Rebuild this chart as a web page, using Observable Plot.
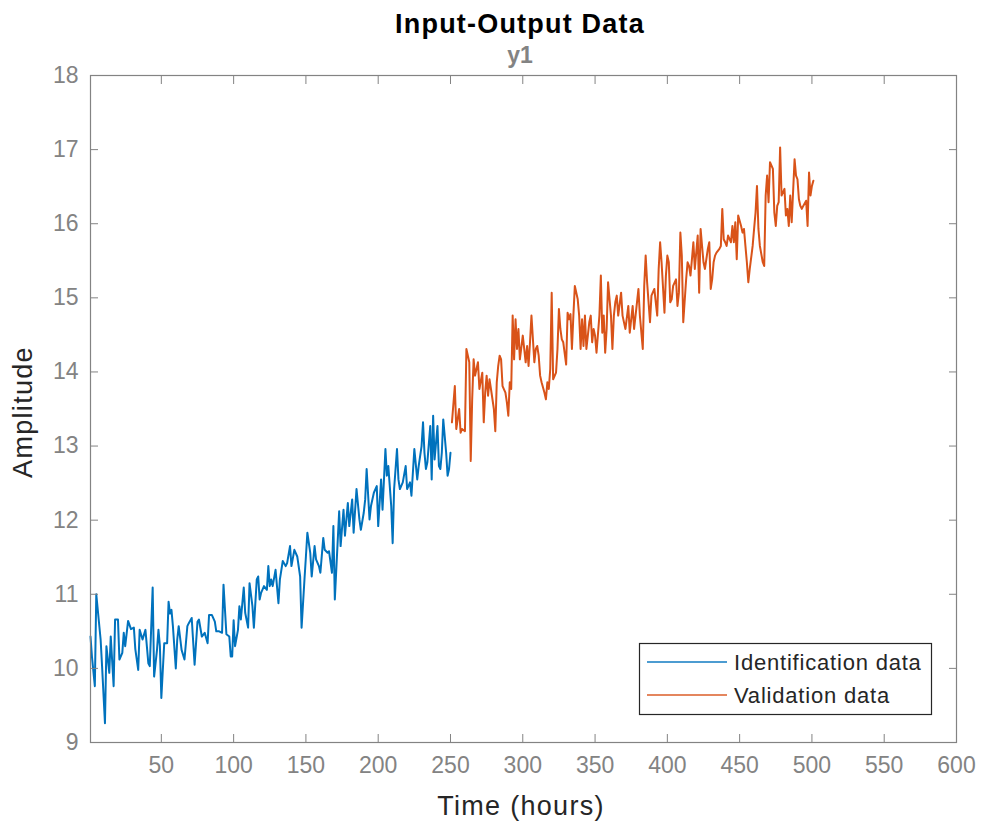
<!DOCTYPE html>
<html><head><meta charset="utf-8">
<script src="https://cdn.jsdelivr.net/npm/d3@7"></script>
<script src="https://cdn.jsdelivr.net/npm/@observablehq/plot@0.6"></script>
<style>body{margin:0;background:#fff;}</style>
</head><body><div id="chart"></div>
<script>
const identTime = [1,2,4,5,8,9,11,12,14,15,17,18,20,21,23,24,25,27,29,31,32,34,35,37,39,41,42,44,45,47,48,49,50,52,54,55,56,57,58,60,61,62,64,66,68,69,71,73,75,76,78,80,82,83,85,87,88,90,92,93,95,97,98,99,100,101,103,104,105,107,108,110,111,113,114,116,117,118,119,121,123,124,125,126,127,129,131,132,134,136,137,139,140,142,144,146,147,149,150,151,153,154,156,157,159,160,162,163,165,166,168,169,170,171,173,174,176,177,179,180,182,183,185,187,188,190,191,192,194,195,197,199,200,202,203,205,206,207,209,210,211,213,214,215,217,219,220,222,223,225,227,228,230,231,232,233,234,236,237,238,239,241,242,243,244,245,247,248,249,250];
const identValue = [10.43,10.16,9.76,11.0,10.39,10.03,9.26,10.3,9.94,10.43,9.76,10.66,10.66,10.12,10.21,10.48,10.3,10.64,10.53,10.55,10.26,9.98,10.52,10.39,10.52,10.07,10.03,11.09,9.89,10.25,10.52,10.3,9.6,10.34,10.34,10.9,10.74,10.79,10.57,10.0,10.39,10.57,10.25,10.12,10.57,10.61,10.68,10.05,10.63,10.66,10.43,10.48,10.34,10.72,10.72,10.63,10.5,10.5,10.48,11.13,10.46,10.43,10.16,10.16,10.65,10.3,10.52,10.84,10.66,11.09,10.75,10.55,11.15,10.84,10.55,11.2,11.24,10.93,11.02,11.11,11.06,11.38,11.11,11.2,11.11,11.33,10.88,11.2,11.45,11.38,11.42,11.65,11.38,11.6,11.51,11.24,10.55,11.2,11.51,11.83,11.56,11.24,11.65,11.47,11.38,11.29,11.76,11.6,11.56,11.58,11.29,11.92,10.93,11.33,12.12,11.65,12.14,11.79,12.23,11.92,12.28,11.83,12.42,12.01,11.87,12.1,12.28,12.69,12.01,12.19,12.37,12.46,11.92,12.55,12.14,12.96,12.6,12.73,12.19,11.69,12.42,12.96,12.55,12.42,12.51,12.73,12.42,12.51,12.33,12.96,12.55,12.73,13.0,13.32,12.91,12.69,12.78,13.27,12.55,13.41,12.82,13.27,12.73,12.69,12.91,13.36,12.91,12.6,12.69,12.91];
const validTime = [251,253,254,256,257,258,260,261,263,264,265,266,267,269,270,272,273,274,275,276,277,278,280,281,282,283,284,285,286,288,289,290,291,292,293,294,295,296,297,298,300,301,302,303,304,305,306,308,309,310,311,312,313,315,316,317,318,319,320,321,323,324,325,326,327,328,330,331,332,333,334,335,336,338,339,340,341,342,343,344,346,347,348,349,350,351,353,354,355,356,357,358,359,361,362,363,364,365,366,368,369,371,373,374,376,377,379,380,381,383,384,385,386,388,389,391,392,393,394,395,396,398,399,400,401,402,403,404,406,407,408,409,410,411,413,414,415,416,417,418,419,421,422,423,424,425,426,428,429,430,431,432,433,434,436,437,438,439,440,441,442,444,445,446,447,448,449,451,452,453,454,455,456,457,459,460,461,462,463,464,466,467,468,469,470,471,473,474,475,476,477,478,479,481,482,483,484,485,486,488,489,490,491,492,493,494,496,497,498,499,500,501];
const validValue = [13.32,13.81,13.23,13.5,13.18,13.23,13.2,14.31,14.13,12.8,13.63,14.17,13.95,14.13,13.77,13.99,13.32,13.72,13.95,13.68,13.9,13.77,13.5,13.2,13.86,14.08,14.22,14.17,13.81,13.72,13.59,13.41,13.86,13.77,14.76,14.17,14.71,14.31,14.58,14.17,14.49,14.31,14.13,14.35,14.08,14.4,14.76,14.13,14.31,14.35,14.22,13.95,13.86,13.72,13.63,13.86,13.77,14.04,15.07,13.9,13.99,14.31,14.85,14.58,14.44,14.4,14.1,14.8,14.71,14.78,14.31,14.76,15.16,14.98,14.76,14.31,14.71,14.35,14.76,14.31,14.67,14.76,14.4,14.58,14.49,14.26,14.76,15.3,14.53,14.76,14.26,14.58,15.21,14.76,14.31,14.76,14.94,15.03,14.76,15.07,14.76,14.58,14.89,14.53,14.89,14.58,14.94,15.12,14.76,14.31,15.16,15.57,15.21,14.67,15.03,15.12,14.94,14.76,15.39,15.75,15.48,14.8,15.3,15.57,15.48,14.94,14.98,15.16,15.25,14.89,15.07,15.88,15.57,14.67,15.25,15.48,15.43,15.3,15.52,15.75,15.39,15.84,15.07,15.93,15.7,15.48,15.39,15.66,15.75,15.12,15.25,15.48,15.57,15.61,15.66,15.7,16.2,15.79,15.75,15.7,15.84,15.75,15.97,15.75,16.02,15.52,16.11,15.97,15.88,15.93,15.7,15.48,15.21,15.39,15.7,15.93,16.15,16.51,15.93,15.7,15.48,15.43,16.38,16.65,16.29,16.83,16.74,16.15,15.97,16.24,16.29,17.03,16.38,16.47,16.11,16.2,15.97,16.38,16.02,16.87,16.65,16.6,16.33,16.24,16.2,16.24,16.31,15.97,16.69,16.38,16.51,16.58];
const xTicks = [50,100,150,200,250,300,350,400,450,500,550,600];
const yTicks = [9,10,11,12,13,14,15,16,17,18];
const seriesNames = ["Identification data", "Validation data"];
const seriesColors = ["#0072BD", "#D95319"];
const titleText = "Input-Output Data";
const subtitleText = "y1";
const xLabel = "Time (hours)";
const yLabel = "Amplitude";

const identData = identTime.map((t, i) => ({t, v: identValue[i]}));
const validData = validTime.map((t, i) => ({t, v: validValue[i]}));

const gray = "#838383";
const dark = "#262626";
const font = "'Liberation Sans', Arial, Helvetica, sans-serif";
const W = 982, H = 825, mL = 90, mR = 26, mT = 75, mB = 83;

const plot = Plot.plot({
  width: W, height: H,
  marginLeft: mL, marginRight: mR, marginTop: mT, marginBottom: mB,
  style: {fontFamily: font, background: "#fff", overflow: "visible"},
  x: {domain: [1, 600], label: null},
  y: {domain: [9, 18], label: null},
  marks: [
    Plot.line(identData, {x: "t", y: "v", stroke: seriesColors[0], strokeWidth: 2}),
    Plot.line(validData, {x: "t", y: "v", stroke: seriesColors[1], strokeWidth: 2}),
    Plot.frame({stroke: gray, strokeWidth: 1.2}),
    Plot.axisX(xTicks, {anchor: "bottom", tickSize: -8, fill: "none", stroke: gray, label: null}),
    Plot.axisX(xTicks, {anchor: "top", tickSize: -8, fill: "none", stroke: gray, label: null}),
    Plot.axisY(yTicks, {anchor: "left", tickSize: -8, fill: "none", stroke: gray, label: null}),
    Plot.axisY(yTicks, {anchor: "right", tickSize: -8, fill: "none", stroke: gray, label: null}),
    Plot.axisX(xTicks, {anchor: "bottom", tickSize: 0, tickPadding: 14, fill: gray, stroke: "none", fontSize: 23, tickFormat: d => String(d), label: null}),
    Plot.axisY(yTicks, {anchor: "left", tickSize: 0, tickPadding: 12, fill: gray, stroke: "none", fontSize: 23, tickFormat: d => String(d), label: null})
  ]
});

document.getElementById("chart").appendChild(plot);
const svg = d3.select(plot);
svg.selectAll("[aria-label='x-axis tick-label'] text, [aria-label='y-axis tick-label'] text").style("letter-spacing", "1.5px");

const cx = mL + (W - mL - mR) / 2;
svg.append("text").attr("x", cx - 3).attr("y", 33).attr("text-anchor", "middle")
  .attr("font-family", font).attr("font-size", 27).attr("font-weight", "bold").attr("fill", "#000")
  .style("letter-spacing", "1.2px").text(titleText);
svg.append("text").attr("x", cx - 3).attr("y", 63).attr("text-anchor", "middle")
  .attr("font-family", font).attr("font-size", 23).attr("font-weight", "bold").attr("fill", gray)
  .text(subtitleText);
svg.append("text").attr("x", cx - 2).attr("y", 815).attr("text-anchor", "middle")
  .attr("font-family", font).attr("font-size", 27).attr("fill", dark)
  .style("letter-spacing", "1.3px").text(xLabel);
svg.append("text").attr("transform", "translate(32,412) rotate(-90)").attr("text-anchor", "middle")
  .attr("font-family", font).attr("font-size", 27).attr("fill", dark)
  .style("letter-spacing", "1.3px").text(yLabel);

// legend
const lg = svg.append("g").attr("transform", "translate(639,643)");
lg.append("rect").attr("x", 0.5).attr("y", 0.5).attr("width", 292).attr("height", 71)
  .attr("fill", "#fff").attr("stroke", dark).attr("stroke-width", 1.2);
seriesNames.forEach((name, i) => {
  const yy = 19 + i * 33;
  lg.append("line").attr("x1", 8).attr("x2", 88).attr("y1", yy).attr("y2", yy)
    .attr("stroke", seriesColors[i]).attr("stroke-width", 2).attr("stroke-opacity", 0.7);
  lg.append("text").attr("x", 95).attr("y", yy).attr("dy", "0.35em").attr("text-anchor", "start")
    .attr("font-family", font).attr("font-size", 22).attr("fill", dark)
    .style("letter-spacing", "0.8px").text(name);
});
</script>
</body></html>
